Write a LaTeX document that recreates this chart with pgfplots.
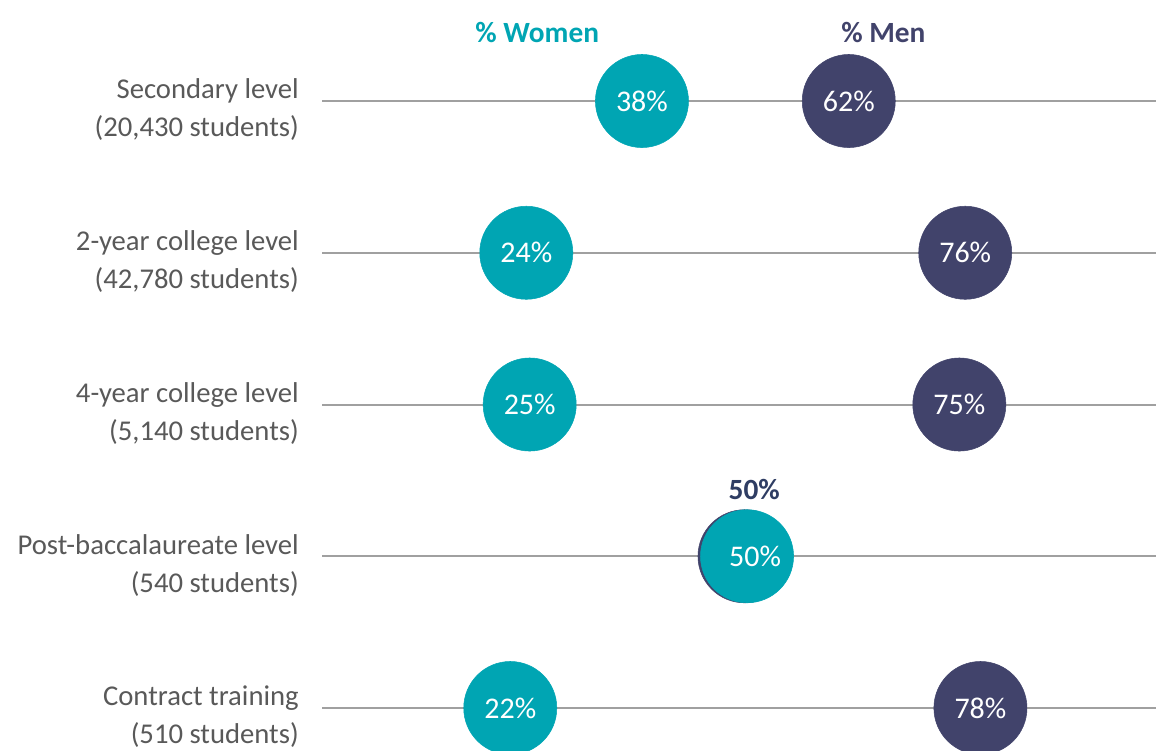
\documentclass[border=0pt]{standalone}
\usepackage{pgfplots}
\pgfplotsset{compat=1.18}
\usepackage{fontspec}
\setmainfont{Carlito}
\definecolor{tealc}{HTML}{00A5B3}
\definecolor{navyc}{HTML}{41436B}
\definecolor{navyd}{HTML}{2F3D63}
\definecolor{lgrey}{HTML}{A0A0A0}
\definecolor{tgrey}{HTML}{595959}
\tikzset{rowlab/.style={anchor=east, align=right, text=tgrey, font=\fontsize{21.5}{28.5}\selectfont}}
\begin{document}
\begin{tikzpicture}
\begin{axis}[name=ax, scale only axis, width=867pt, height=562.5pt,
  xmin=-38.15, xmax=98.8, ymin=-0.6656, ymax=4.2768, y dir=reverse,
  hide axis, clip=false]
% grid lines
\addplot[lgrey, line width=1.5pt, forget plot] coordinates {(0,0) (98.8,0)};
\addplot[lgrey, line width=1.5pt, forget plot] coordinates {(0,1) (98.8,1)};
\addplot[lgrey, line width=1.5pt, forget plot] coordinates {(0,2) (98.8,2)};
\addplot[lgrey, line width=1.5pt, forget plot] coordinates {(0,3) (98.8,3)};
\addplot[lgrey, line width=1.5pt, forget plot] coordinates {(0,4) (98.8,4)};
% men
\addplot[only marks, mark=*, mark size=34.9pt, navyc, mark options={draw=navyc, fill=navyc},
  nodes near coords, point meta=explicit symbolic,
  nodes near coords align=center,
  every node near coord/.style={text=white, anchor=center, font=\fontsize{22.5}{26}\selectfont}]
  table[x=x, y=y, meta=lab] {
x y lab
62.4 0 62\%
76.2 1 76\%
75.5 2 75\%
50.05 3 {}
78 4 78\%
};
% women
\addplot[only marks, mark=*, mark size=34.9pt, tealc, mark options={draw=tealc, fill=tealc},
  nodes near coords, point meta=explicit symbolic,
  nodes near coords align=center,
  every node near coord/.style={text=white, anchor=center, font=\fontsize{22.5}{26}\selectfont}]
  table[x=x, y=y, meta=lab] {
x y lab
37.9 0 38\%
24.2 1 24\%
24.6 2 25\%
50.35 3 {}
22.3 4 22\%
};
% offset label of the 50% circle
\addplot[only marks, mark=none,
  nodes near coords, point meta=explicit symbolic,
  nodes near coords align=center,
  every node near coord/.style={text=white, anchor=center, font=\fontsize{22.5}{26}\selectfont}]
  table[x=x, y=y, meta=lab] {
x y lab
51.3 3 50\%
};
\node[text=navyd, font=\bfseries\fontsize{22}{26}\selectfont] at (axis cs:51.2,2.563) {50\%};
% headers
\node[text=tealc, font=\bfseries\fontsize{22}{26}\selectfont] at (axis cs:25.5,-0.4547) {\% Women};
\node[text=navyc, font=\bfseries\fontsize{22}{26}\selectfont] at (axis cs:66.5,-0.4547) {\% Men};
% row labels
\node[rowlab] at (axis cs:-2.2,0.058) {Secondary level\\(20,430 students)};
\node[rowlab] at (axis cs:-2.2,1.058) {2-year college level\\(42,780 students)};
\node[rowlab] at (axis cs:-2.2,2.058) {4-year college level\\(5,140 students)};
\node[rowlab] at (axis cs:-2.2,3.058) {Post-baccalaureate level\\(540 students)};
\node[rowlab] at (axis cs:-2.2,4.058) {Contract training\\(510 students)};
\end{axis}
\pgfresetboundingbox
\path (ax.south west) rectangle (ax.north east);
\end{tikzpicture}
\end{document}
